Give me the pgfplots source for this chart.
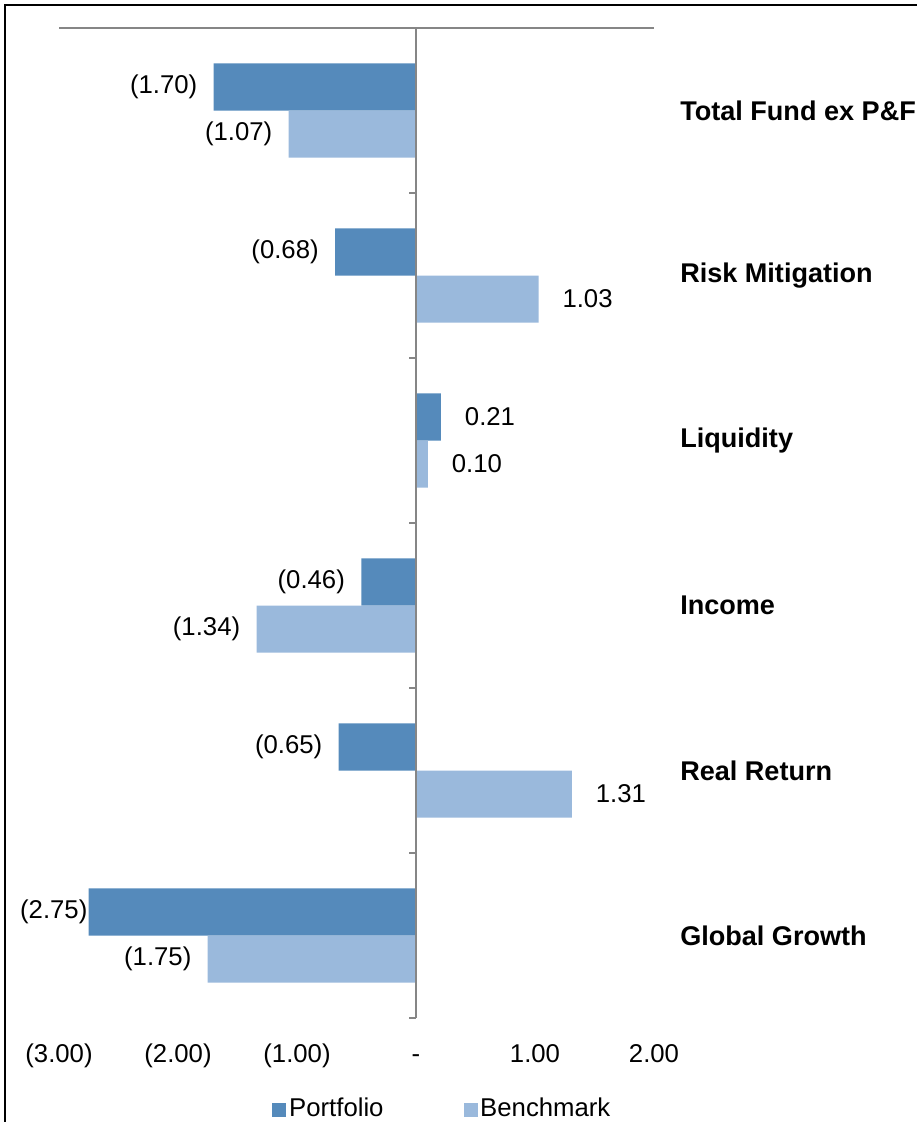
\documentclass[border=0pt]{standalone}
\usepackage{fontspec}
\setmainfont{Liberation Sans}
\usepackage{pgfplots}
\usepackage{pgfplotstable}
\pgfplotsset{compat=1.18}
\definecolor{portc}{RGB}{85,138,187}
\definecolor{benchc}{RGB}{154,185,220}
\definecolor{axgray}{RGB}{134,134,134}

% y: 0.5 Global Growth ... 5.5 Total Fund ex P&F
\pgfplotstableread{
x y dx label
-2.75 0.5 -26.25 (2.75)
-0.65 1.5 -37.5 (0.65)
-0.46 2.5 -37.5 (0.46)
0.21 3.5 36.75 0.21
-0.68 4.5 -37.5 (0.68)
-1.70 5.5 -37.5 (1.70)
}\portdata
\pgfplotstableread{
x y dx label
-1.75 0.5 -37.5 (1.75)
1.31 1.5 36.75 1.31
-1.34 2.5 -37.5 (1.34)
0.10 3.5 36.75 0.10
1.03 4.5 36.75 1.03
-1.07 5.5 -37.5 (1.07)
}\benchdata

\newcommand{\bigfont}{\fontsize{19.3}{23}\selectfont}
\newcommand{\catfont}{\fontsize{20.3}{24}\selectfont\bfseries}
\begin{document}
\begin{tikzpicture}[font=\bigfont]
\useasboundingbox (0,0) rectangle (687.75pt,841.5pt);
\draw[line width=1.5pt,black] (3.75pt,0) -- (3.75pt,837.75pt) -- (687.75pt,837.75pt);
\begin{axis}[
  at={(44.25pt,78pt)}, anchor=south west,
  scale only axis, width=446.25pt, height=742.5pt,
  xmin=-3, xmax=2, ymin=0, ymax=6,
  xbar, bar width=0.285,
  axis line style={draw=none},
  xtick={-3,-2,-1,0,1,2},
  xticklabels={(3.00),(2.00),(1.00),-,1.00,2.00},
  major tick length=0pt,
  xticklabel style={anchor=base, yshift=-33pt, font=\bigfont},
  ytick=\empty,
  clip=false,
  legend style={at={(axis description cs:0.645,-0.091)}, anchor=center, draw=none,
    legend columns=2, /tikz/every even column/.append style={column sep=58pt},
    inner sep=0pt, font=\bigfont},
  legend image code/.code={\fill[#1] (0pt,-7pt) rectangle (10.5pt,3.5pt);},
  nodes near coords={\makebox[0pt]{\pgfplotspointmeta}},
  point meta=explicit symbolic,
  visualization depends on={\thisrow{dx} \as \dx},
  every node near coord/.append style={inner sep=0pt, anchor=center, xshift=\dx pt, text=black, font=\bigfont},
]
\addplot[fill=portc, draw=none, bar shift=0.1425] table[x=x, y=y, meta=label] {\portdata};
\addlegendentry{Portfolio}
\addplot[fill=benchc, draw=none, bar shift=-0.1425] table[x=x, y=y, meta=label] {\benchdata};
\addlegendentry{Benchmark}

\draw[axgray, line width=1.2pt] (axis cs:-3,6) -- (axis cs:2,6);
\draw[axgray, line width=1.2pt] (axis cs:0,0) -- (axis cs:0,6);
\draw[axgray, line width=1.2pt] (axis cs:0,0) -- ([xshift=-5.25pt]axis cs:0,0);
\draw[axgray, line width=1.2pt] (axis cs:0,1) -- ([xshift=-5.25pt]axis cs:0,1);
\draw[axgray, line width=1.2pt] (axis cs:0,2) -- ([xshift=-5.25pt]axis cs:0,2);
\draw[axgray, line width=1.2pt] (axis cs:0,3) -- ([xshift=-5.25pt]axis cs:0,3);
\draw[axgray, line width=1.2pt] (axis cs:0,4) -- ([xshift=-5.25pt]axis cs:0,4);
\draw[axgray, line width=1.2pt] (axis cs:0,5) -- ([xshift=-5.25pt]axis cs:0,5);

\node[anchor=west, font=\catfont, inner sep=0pt, xshift=19.5pt] at (axis cs:2,5.5) {Total Fund ex P\&F};
\node[anchor=west, font=\catfont, inner sep=0pt, xshift=19.5pt] at (axis cs:2,4.5) {Risk Mitigation};
\node[anchor=west, font=\catfont, inner sep=0pt, xshift=19.5pt] at (axis cs:2,3.5) {Liquidity};
\node[anchor=west, font=\catfont, inner sep=0pt, xshift=19.5pt] at (axis cs:2,2.5) {Income};
\node[anchor=west, font=\catfont, inner sep=0pt, xshift=19.5pt] at (axis cs:2,1.5) {Real Return};
\node[anchor=west, font=\catfont, inner sep=0pt, xshift=19.5pt] at (axis cs:2,0.5) {Global Growth};
\end{axis}
\end{tikzpicture}
\end{document}
